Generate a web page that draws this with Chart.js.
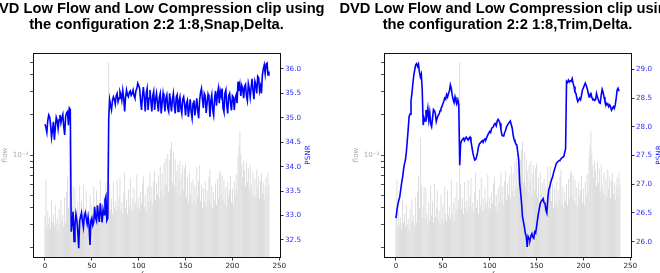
<!DOCTYPE html>
<html><head><meta charset="utf-8">
<script src="https://cdn.jsdelivr.net/npm/chart.js@4/dist/chart.umd.min.js"></script>
<style>
html,body{margin:0;padding:0;overflow:hidden;background:#fff;width:660px;height:273px}
canvas{position:absolute;top:0}
#c1{left:0}#c2{left:330px}
</style></head>
<body>
<canvas id="c1" width="330" height="290"></canvas>
<canvas id="c2" width="330" height="290"></canvas>
<script>
// ---- data ----
const frames = Array.from({length: 240}, (_, i) => i);

const flow = [
3.5e-4,6.5e-4,2.9e-4,3.8e-4,3.0e-4,3.4e-4,2.8e-4,4.6e-4,3.1e-4,3.6e-4,
2.9e-4,4.2e-4,3.0e-4,3.3e-4,2.7e-4,3.9e-4,3.0e-4,4.6e-4,3.2e-4,3.5e-4,
2.9e-4,4.8e-4,3.1e-4,5.3e-4,6.9e-4,4.0e-4,1.35e-3,6.0e-4,3.4e-4,4.1e-4,
5.8e-4,3.3e-4,5.6e-4,3.6e-4,3.0e-4,4.4e-4,3.2e-4,5.9e-4,3.5e-4,4.5e-4,
3.1e-4,6.1e-4,3.4e-4,4.0e-4,5.4e-4,3.2e-4,3.8e-4,3.0e-4,5.0e-4,3.3e-4,
4.2e-4,3.1e-4,5.8e-4,3.6e-4,3.2e-4,5.4e-4,3.5e-4,4.1e-4,3.3e-4,6.5e-4,
3.6e-4,4.4e-4,3.2e-4,4.8e-4,3.7e-4,6.2e-4,3.9e-4,4.6e-4,4.95e-3,6.0e-4,
3.9e-4,4.7e-4,3.6e-4,6.3e-4,4.0e-4,4.5e-4,3.8e-4,6.5e-4,4.1e-4,4.9e-4,
6.7e-4,3.9e-4,4.4e-4,3.7e-4,5.2e-4,7.4e-4,4.0e-4,4.6e-4,3.6e-4,5.5e-4,
4.1e-4,6.8e-4,3.8e-4,4.7e-4,3.9e-4,5.6e-4,4.2e-4,4.5e-4,7.1e-4,4.0e-4,
4.8e-4,3.9e-4,5.3e-4,4.3e-4,6.1e-4,6.9e-4,4.1e-4,5.0e-4,3.8e-4,5.7e-4,
4.4e-4,6.0e-4,7.4e-4,4.5e-4,5.8e-4,4.2e-4,6.4e-4,7.6e-4,4.6e-4,6.1e-4,
5.0e-4,7.0e-4,4.7e-4,8.2e-4,5.4e-4,7.3e-4,4.9e-4,8.8e-4,5.6e-4,9.5e-4,
6.0e-4,1.02e-3,5.3e-4,9.1e-4,1.1e-3,1.26e-3,6.2e-4,1.05e-3,5.8e-4,9.3e-4,
7.6e-4,5.2e-4,8.5e-4,6.4e-4,9.0e-4,5.0e-4,7.2e-4,8.4e-4,5.4e-4,7.9e-4,
8.6e-4,4.8e-4,6.8e-4,4.4e-4,7.4e-4,5.1e-4,6.2e-4,4.3e-4,6.6e-4,4.6e-4,
5.9e-4,4.2e-4,8.1e-4,4.8e-4,6.4e-4,8.3e-4,4.5e-4,6.0e-4,4.0e-4,5.6e-4,
4.4e-4,6.3e-4,4.1e-4,5.4e-4,4.6e-4,6.9e-4,7.8e-4,4.3e-4,5.8e-4,4.0e-4,
5.2e-4,4.5e-4,6.1e-4,4.2e-4,6.6e-4,4.7e-4,7.2e-4,7.6e-4,5.0e-4,7.0e-4,
4.6e-4,6.5e-4,4.3e-4,5.7e-4,4.1e-4,6.2e-4,4.8e-4,5.5e-4,7.0e-4,4.4e-4,
5.6e-4,4.2e-4,6.3e-4,4.9e-4,7.2e-4,5.4e-4,9.6e-4,1.18e-3,1.5e-3,1.02e-3,
8.4e-4,6.8e-4,9.0e-4,7.6e-4,5.8e-4,8.8e-4,6.2e-4,7.9e-4,5.4e-4,8.5e-4,
6.0e-4,5.2e-4,7.4e-4,5.0e-4,6.6e-4,4.8e-4,7.8e-4,5.6e-4,6.9e-4,4.7e-4,
6.4e-4,7.3e-4,5.1e-4,6.2e-4,4.6e-4,5.9e-4,6.8e-4,5.0e-4,7.4e-4,6.0e-4
];

const psnrSnap = [
34.87,34.80,34.70,34.95,35.06,35.02,34.85,34.60,34.75,34.92,
34.55,34.80,35.01,34.95,34.78,34.96,35.06,34.90,35.00,35.07,
34.82,34.65,35.02,35.10,35.13,34.85,35.20,35.17,32.67,32.85,
33.08,32.47,32.80,33.03,32.90,32.67,32.33,32.89,32.98,33.06,
32.88,32.76,33.00,33.06,32.95,32.83,32.97,32.80,32.40,32.89,
32.95,32.80,32.86,33.18,32.95,32.89,33.21,33.00,32.87,33.25,
33.05,32.86,33.12,33.02,33.32,33.39,32.90,32.95,34.97,35.37,
35.25,35.16,35.35,35.43,35.38,35.28,35.45,35.50,35.33,35.40,
35.54,35.48,35.36,35.56,35.40,35.13,35.42,35.57,35.47,35.43,
35.52,35.55,35.46,35.50,35.57,35.45,35.40,35.55,35.60,35.71,
35.66,35.60,35.35,35.16,35.45,35.63,35.40,35.13,35.50,35.60,
35.16,35.40,35.57,35.35,35.13,35.45,35.54,35.16,35.38,35.50,
35.30,35.13,35.42,35.50,35.09,35.30,35.50,35.35,35.13,35.40,
35.47,35.20,35.13,35.50,35.32,35.13,35.38,35.50,35.25,35.09,
35.42,35.47,35.13,35.35,35.43,35.20,35.09,35.38,35.43,35.27,
35.05,35.30,35.36,35.02,35.20,35.38,35.12,34.99,35.30,35.36,
35.05,35.22,35.40,35.15,34.99,35.35,35.52,35.60,35.38,35.20,
35.50,35.45,35.10,35.30,35.48,35.40,35.02,35.35,35.47,35.15,
35.05,35.40,35.55,35.25,35.48,35.60,35.30,35.55,35.45,35.60,
35.20,35.12,35.50,35.57,35.25,35.09,35.45,35.50,35.30,35.15,
35.45,35.42,35.16,35.40,35.47,35.30,35.74,35.55,35.68,35.45,
35.66,35.60,35.40,35.64,35.68,35.45,35.35,35.70,35.60,35.42,
35.62,35.80,35.55,35.38,35.75,35.68,35.50,35.85,35.82,35.55,
35.65,35.50,35.88,36.00,36.08,35.90,36.10,36.12,35.88,35.95
];

const psnrTrim = [
26.41,26.55,26.65,26.72,26.78,26.90,27.02,27.12,27.25,27.35,
27.42,27.55,27.75,27.95,28.18,28.22,28.45,28.58,28.75,28.90,
28.99,29.08,29.10,29.05,29.09,28.95,28.87,28.92,28.64,28.03,
28.15,28.10,28.29,28.20,28.32,28.12,28.25,28.05,28.00,28.15,
28.30,28.28,28.23,28.09,28.15,28.20,28.22,28.28,28.32,28.35,
28.40,28.44,28.50,28.48,28.56,28.52,28.58,28.62,28.73,28.67,
28.55,28.47,28.42,28.52,28.45,28.41,28.47,28.38,27.33,27.71,
27.76,27.78,27.80,27.76,27.80,27.82,27.79,27.77,27.80,27.82,
27.75,27.65,27.55,27.48,27.42,27.43,27.48,27.55,27.65,27.70,
27.72,27.74,27.76,27.73,27.77,27.79,27.78,27.82,27.86,27.89,
27.92,27.90,27.97,27.99,28.00,28.05,28.06,28.02,28.10,28.13,
28.10,28.06,27.95,27.86,27.84,27.84,27.90,27.94,28.00,28.03,
28.06,28.08,28.10,28.04,27.98,27.86,27.78,27.74,27.70,27.68,
27.55,27.42,27.02,26.85,26.67,26.43,26.35,26.26,26.15,26.09,
25.91,26.09,26.05,26.03,26.10,26.14,26.08,26.06,26.17,26.15,
26.26,26.38,26.49,26.58,26.67,26.70,26.72,26.75,26.68,26.67,
26.55,26.50,26.75,26.90,26.95,27.02,27.08,27.12,27.19,27.25,
27.30,27.36,27.38,27.40,27.41,27.42,27.44,27.46,27.47,27.48,
27.55,27.62,28.79,28.77,28.81,28.78,28.80,28.79,28.84,28.76,
28.70,28.60,28.58,28.50,28.44,28.47,28.50,28.47,28.55,28.64,
28.68,28.72,28.76,28.72,28.67,28.60,28.52,28.56,28.58,28.52,
28.47,28.48,28.46,28.47,28.58,28.52,28.47,28.42,28.41,28.55,
28.65,28.60,28.52,28.44,28.42,28.38,28.40,28.35,28.38,28.35,
28.29,28.32,28.35,28.32,28.38,28.50,28.64,28.67,28.62,28.62
];

const xTicks = [0, 50, 100, 150, 200, 250];
const flowTicks = [2e-4,3e-4,4e-4,5e-4,6e-4,7e-4,8e-4,9e-4,1e-3,2e-3,3e-3,4e-3,5e-3];
const flowTickLabels = {"0.001": "10\u207B\u00B3"};
const psnrTicksSnap = [32.5, 33.0, 33.5, 34.0, 34.5, 35.0, 35.5, 36.0];
const psnrTicksTrim = [26.0, 26.5, 27.0, 27.5, 28.0, 28.5, 29.0];
const titleSnap = ["DVD Low Flow and Low Compression clip using", "the configuration 2:2 1:8,Snap,Delta."];
const titleTrim = ["DVD Low Flow and Low Compression clip using", "the configuration 2:2 1:8,Trim,Delta."];
const xLabel = "frame nr";
const yLeftLabel = "flow";
const yRightLabel = "PSNR";

// ---- drawing ----
const TICK_FONT = {family: "'DejaVu Sans'", size: 7.2};

const decor = {
  id: 'decor',
  afterDraw(chart, args, o) {
    const {ctx, chartArea: a} = chart;
    ctx.save();
    ctx.strokeStyle = '#111';
    ctx.lineWidth = 1;
    ctx.strokeRect(a.left + 0.5, a.top + 0.5, a.right - a.left, a.bottom - a.top);
    const cx = (a.left + a.right) / 2;
    ctx.fillStyle = '#000';
    ctx.font = "bold 14.7px 'Liberation Sans'";
    ctx.textAlign = 'center';
    ctx.textBaseline = 'alphabetic';
    ctx.fillText(o.title[0], cx, 13.0);
    ctx.fillText(o.title[1], cx, 29.3);
    ctx.font = "7.2px 'DejaVu Sans'";
    ctx.textBaseline = 'middle';
    const cy = (a.top + a.bottom) / 2;
    ctx.save();
    ctx.translate(a.left - 27.5, cy);
    ctx.rotate(-Math.PI / 2);
    ctx.fillStyle = '#aaaaaa';
    ctx.fillText(yLeftLabel, 0, 0);
    ctx.restore();
    ctx.save();
    ctx.translate(a.right + 28, cy);
    ctx.rotate(-Math.PI / 2);
    ctx.fillStyle = '#2a2aff';
    ctx.fillText(yRightLabel, 0, 0);
    ctx.restore();
    ctx.fillStyle = '#222';
    ctx.fillText(xLabel, cx, a.bottom + 18);
    ctx.restore();
  }
};

function makeChart(id, title, psnr, psnrTicks, pMin, pMax, leftW, rightW) {
  return new Chart(document.getElementById(id), {
    type: 'bar',
    data: {
      datasets: [
        {type: 'line', data: psnr.map((v, i) => ({x: frames[i], y: v})), yAxisID: 'yR',
         borderColor: '#0000ff', borderWidth: 1.6, pointRadius: 0, tension: 0, order: 0},
        {type: 'bar', data: flow.map((v, i) => ({x: frames[i], y: v})), yAxisID: 'yL',
         backgroundColor: '#d9d9d9', borderWidth: 0, barPercentage: 0.95, categoryPercentage: 1.0, order: 1}
      ]
    },
    options: {
      responsive: false, animation: false, devicePixelRatio: 1,
      layout: {padding: {top: 53, left: 0, right: 0, bottom: 0}},
      plugins: {legend: {display: false}, tooltip: {enabled: false}, title: {display: false}, decor: {title}},
      scales: {
        x: {
          type: 'linear', offset: false, min: -12.8, max: 250.8,
          afterBuildTicks: s => { s.ticks = xTicks.map(v => ({value: v})); },
          afterFit: s => { s.height = 33; },
          ticks: {autoSkip: false, maxRotation: 0, color: '#222', font: TICK_FONT, padding: 1},
          grid: {display: true, drawOnChartArea: false, drawTicks: true, tickLength: 3.5, tickColor: '#000', tickWidth: 0.8, offset: false},
          border: {display: false}
        },
        yL: {
          type: 'logarithmic', position: 'left', min: 1.708e-4, max: 5.855e-3,
          afterBuildTicks: s => { s.ticks = flowTicks.map(v => ({value: v})); },
          afterFit: s => { s.width = leftW; },
          ticks: {autoSkip: false, color: '#aaaaaa', font: TICK_FONT, padding: 1.5,
                  callback: v => flowTickLabels[String(Number(v.toPrecision(3)))] || ''},
          grid: {display: true, drawOnChartArea: false, drawTicks: true, tickLength: 3, tickColor: '#000', tickWidth: 0.7},
          border: {display: false}
        },
        yR: {
          type: 'linear', position: 'right', min: pMin, max: pMax,
          afterBuildTicks: s => { s.ticks = psnrTicks.map(v => ({value: v})); },
          afterFit: s => { s.width = rightW; },
          ticks: {autoSkip: false, color: '#2a2aff', font: TICK_FONT, padding: 1.5, callback: v => Number(v).toFixed(1)},
          grid: {display: true, drawOnChartArea: false, drawTicks: true, tickLength: 3.5, tickColor: '#000', tickWidth: 0.8},
          border: {display: false}
        }
      }
    },
    plugins: [decor]
  });
}

makeChart('c1', titleSnap, psnrSnap, psnrTicksSnap, 32.152, 36.327, 33, 50);
makeChart('c2', titleTrim, psnrTrim, psnrTicksTrim, 25.734, 29.284, 54, 29);
</script>
</body></html>
